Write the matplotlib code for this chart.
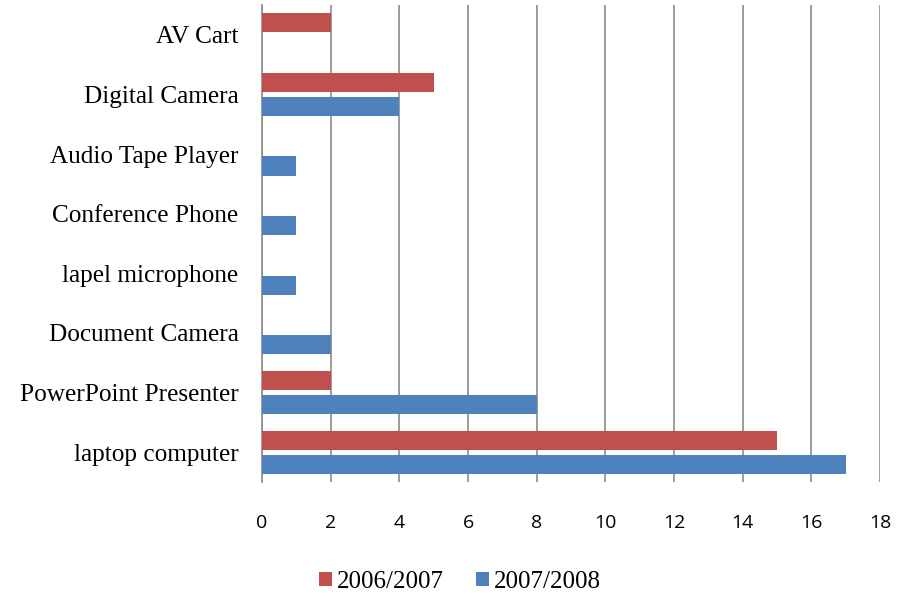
import numpy as np
import matplotlib
matplotlib.use("Agg")
import matplotlib.pyplot as plt

categories = ["laptop computer", "PowerPoint Presenter", "Document Camera", "lapel microphone",
              "Conference Phone", "Audio Tape Player", "Digital Camera", "AV Cart"]
y2006 = [15, 2, 0, 0, 0, 0, 5, 2]
y2008 = [17, 8, 2, 1, 1, 1, 4, 0]
xticks = [0, 2, 4, 6, 8, 10, 12, 14, 16, 18]

red = "#c0504d"
blue = "#4f81bd"

fig = plt.figure(figsize=(9.09, 6.0), dpi=100)
ax = fig.add_axes([262 / 909, 1 - 482 / 600, (880 - 262) / 909, 477 / 600])

pos = np.arange(len(categories))
h = 0.32
ax.barh(pos + 0.2, y2006, height=h, color=red, label="2006/2007", zorder=3)
ax.barh(pos - 0.2, y2008, height=h, color=blue, label="2007/2008", zorder=3)

ax.set_xlim(0, 18)
ax.set_ylim(-0.5, len(categories) - 0.5)
ax.set_xticks(xticks)
ax.set_xticklabels([str(t) for t in xticks], fontfamily="Open Sans", fontsize=14)
ax.set_yticks(pos)
ax.set_yticklabels(categories, fontfamily="Liberation Serif", fontsize=18.2)
ax.tick_params(axis="x", length=0, pad=23)
ax.tick_params(axis="y", length=0, pad=17)
ax.grid(axis="x", color="#8c8c8c", linewidth=1.2, zorder=0)
for s in ["top", "right", "bottom"]:
    ax.spines[s].set_visible(False)
ax.spines["left"].set_color("#8c8c8c")
ax.spines["left"].set_linewidth(1.2)

fig.legend(loc="center", bbox_to_anchor=(460 / 909, 1 - 582 / 600), ncol=2, frameon=False,
           prop={"family": "Liberation Serif", "size": 18}, handlelength=0.5, handleheight=0.5,
           handletextpad=0.2, columnspacing=1.3)

fig.savefig("out.png", dpi=100)
